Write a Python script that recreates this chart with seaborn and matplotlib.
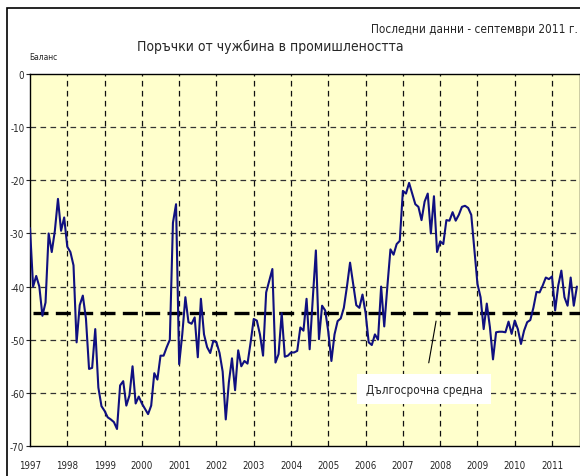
import matplotlib.pyplot as plt
import matplotlib as mpl
import pandas as pd
import numpy as np
import seaborn as sns

# monthly balance, Jan 1997 - Sep 2011
bal_1997 = [-29, -40, -38, -40, -45.5, -43, -30, -33.5, -29.5, -23.5, -29.5, -27]
bal_1998 = [-32.5, -33.5, -36, -50.5, -43.5, -41.7, -46, -55.5, -55.3, -48, -59, -62.5]
bal_1999 = [-63.4, -64.6, -65, -65.5, -66.8, -58.6, -57.8, -62.4, -60.5, -55, -62, -60.7]
bal_2000 = [-62, -63, -64, -62.4, -56.3, -57.5, -53, -53, -51.4, -50, -28, -24.5]
bal_2001 = [-54.6, -49, -42, -46.7, -47, -45.8, -53.3, -42.3, -49, -51.4, -52.5, -50.2]
bal_2002 = [-50.5, -52.5, -56, -65, -58, -53.5, -59.5, -52, -55, -54, -54.5, -50.5]
bal_2003 = [-46.1, -46.4, -49, -53, -41.1, -38.9, -36.7, -54.3, -52.7, -45, -53.2, -53]
bal_2004 = [-52.4, -52.4, -52.1, -47.7, -48.3, -42.3, -51.8, -42.3, -33.2, -49.9, -43.6, -44.5]
bal_2005 = [-48.5, -54, -49, -46.5, -46, -44, -40, -35.5, -39.5, -43.5, -44, -41.5]
bal_2006 = [-45, -50.5, -51, -49, -50, -40, -47.5, -40, -33, -34, -32, -31.4]
bal_2007 = [-22, -22.5, -20.5, -22.5, -24.5, -25, -27.5, -24, -22.5, -30, -23, -33.5]
bal_2008 = [-31.5, -32, -27.5, -27.6, -26, -27.6, -26.5, -25, -24.8, -25.2, -26.5, -33]
bal_2009 = [-39.5, -42, -48, -43.2, -47.6, -53.7, -48.6, -48.5, -48.5, -48.6, -46.6, -48.9]
bal_2010 = [-46.4, -48, -50.8, -48.3, -46.7, -46.3, -44, -41, -41.1, -39.8, -38.3, -38.6]
bal_2011 = [-38.1, -44.5, -39.8, -37, -42, -43.6, -38.3, -43.6, -40]

LONG_TERM_MEAN = -45
years = list(range(1997, 2012))
yticks = [0, -10, -20, -30, -40, -50, -60, -70]

balance = (bal_1997 + bal_1998 + bal_1999 + bal_2000 + bal_2001 + bal_2002 + bal_2003
           + bal_2004 + bal_2005 + bal_2006 + bal_2007 + bal_2008 + bal_2009 + bal_2010 + bal_2011)
df = pd.DataFrame({'t': 1997 + np.arange(len(balance)) / 12, 'balance': balance})

sns.set_style('white')
plt.rcParams['font.family'] = ['DejaVu Sans']
plt.rcParams['font.stretch'] = 'condensed'

fig = plt.figure(figsize=(5.8, 4.77), dpi=100)
W, H = 580, 477
ax = fig.add_axes([30 / W, (H - 447) / H, 550 / W, 372 / H])
ax.set_facecolor('#FFFFCC')

# outer frame
fig.patches.append(mpl.patches.Rectangle((7 / W, -0.1), 1.2, (H - 9) / H + 0.1,
                                         transform=fig.transFigure, fill=False,
                                         edgecolor='black', linewidth=1.2, zorder=0))

for y in yticks[1:-1]:
    ax.axhline(y, color='#333333', linewidth=0.9, dashes=(4.5, 3.5), zorder=1)
for yr in years[1:]:
    ax.axvline(yr, color='#111111', linewidth=0.9, dashes=(4.5, 3.5), zorder=1)

ax.axhline(LONG_TERM_MEAN, xmin=0.006, color='black', linewidth=2.4, dashes=(4.5, 2.2), zorder=2)

sns.lineplot(data=df, x='t', y='balance', ax=ax, color='#101080', linewidth=1.5, zorder=3)

ax.set_xlim(1997, 2011.75)
ax.set_ylim(-70, 0)
ax.set_xticks(years)
ax.set_xticklabels([str(y) for y in years], fontsize=7)
ax.set_yticks(yticks)
ax.set_yticklabels([str(y) for y in yticks], fontsize=7)
ax.tick_params(axis='y', length=3, width=0.8, direction='out', left=True, pad=1)
ax.tick_params(axis='x', length=0, pad=10)
ax.set_xlabel('')
ax.set_ylabel('')
for s in ax.spines.values():
    s.set_color('black')
    s.set_linewidth(1.0)

ax.annotate('Дългосрочна средна', xy=(2007.89, -46.5), xytext=(2007.57, -59.3),
            ha='center', va='center', fontsize=8.5,
            bbox=dict(boxstyle='square,pad=0.75', facecolor='white', edgecolor='none'),
            arrowprops=dict(arrowstyle='-', color='black', linewidth=0.8, shrinkA=8, shrinkB=0))

fig.text(0.5 - 20 / W, 1 - 47 / H, 'Поръчки от чужбина в промишлеността',
         ha='center', va='center', fontsize=10)
fig.text(578 / W, 1 - 30 / H, 'Последни данни - септември 2011 г.',
         ha='right', va='center', fontsize=8.5)
fig.text(29 / W, 1 - 57 / H, 'Баланс', ha='left', va='center', fontsize=6)

fig.savefig('out.png', dpi=100)
